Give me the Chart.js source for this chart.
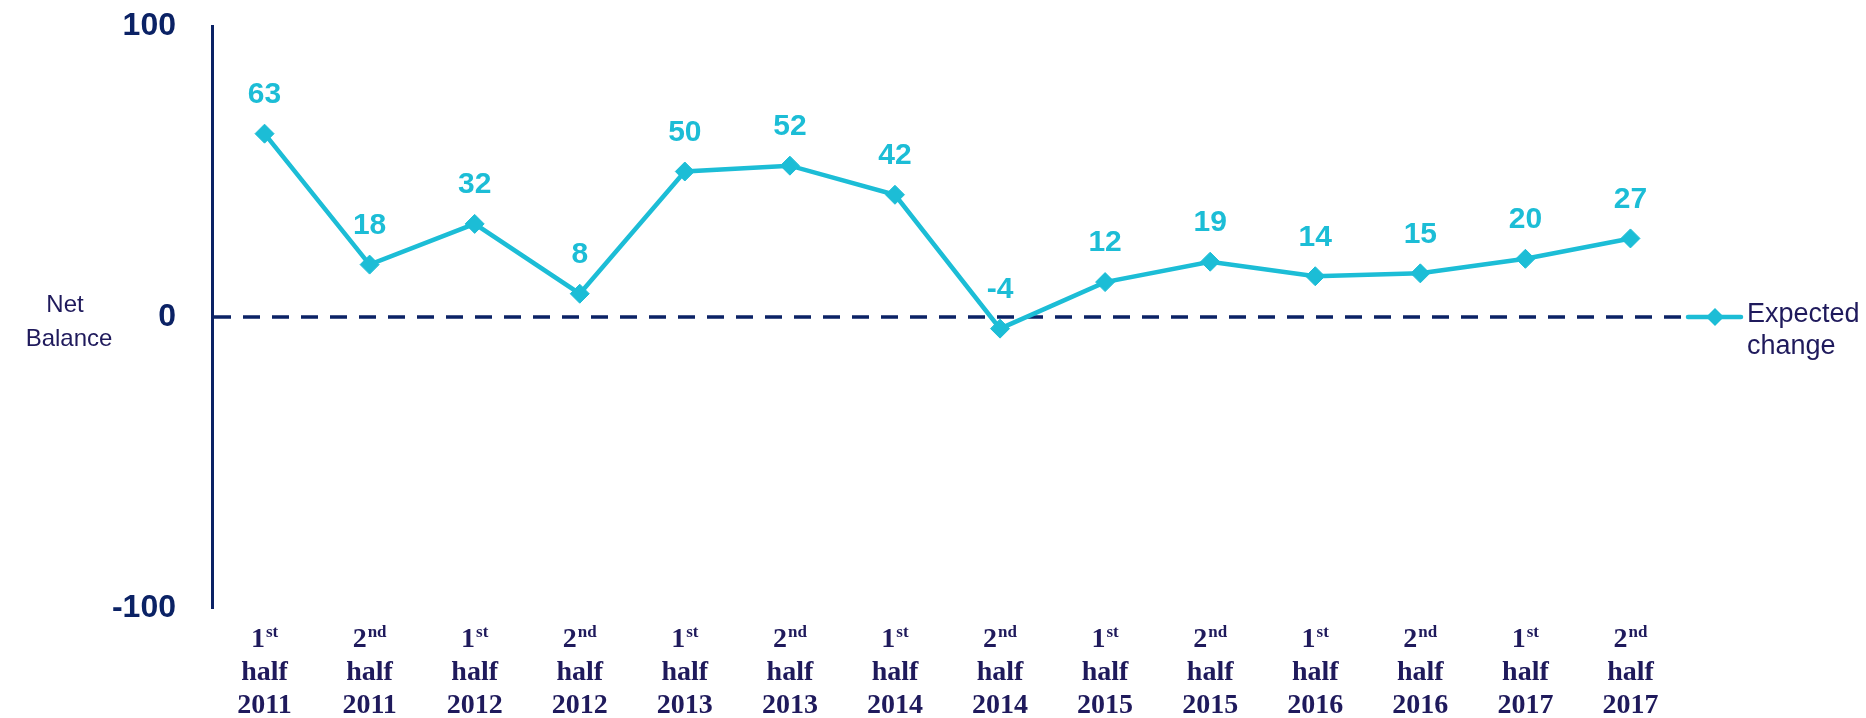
<!DOCTYPE html>
<html>
<head>
<meta charset="utf-8">
<script src="https://cdn.jsdelivr.net/npm/chart.js@4"></script>
<style>
  body { margin: 0; background: #fff; }
  canvas { display: block; }
</style>
</head>
<body>
<canvas id="balanceChart" width="1866" height="718"></canvas>
<script>
const halves = ['1', '2', '1', '2', '1', '2', '1', '2', '1', '2', '1', '2', '1', '2']
const suffixes = ['st', 'nd', 'st', 'nd', 'st', 'nd', 'st', 'nd', 'st', 'nd', 'st', 'nd', 'st', 'nd']
const years = ['2011', '2011', '2012', '2012', '2013', '2013', '2014', '2014', '2015', '2015', '2016', '2016', '2017', '2017']
const expectedChange = [63, 18, 32, 8, 50, 52, 42, -4, 12, 19, 14, 15, 20, 27]
const yTicks = [-100, 0, 100]

const cyan = '#1cbdd6'
const navy = '#0b2265'
const ink = '#1f1a5c'
const sans = '"Liberation Sans", Arial, sans-serif'
const serif = '"Liberation Serif", "Times New Roman", serif'

const labels = years.map((y, i) => halves[i] + suffixes[i] + ' half ' + y)

// dashed line at zero
const zeroLine = {
    id: 'zeroLine',
    beforeDatasetsDraw(chart) {
        const { ctx, chartArea, scales } = chart
        const y = scales.y.getPixelForValue(0)
        ctx.save()
        ctx.strokeStyle = navy
        ctx.lineWidth = 3.5
        ctx.setLineDash([17, 12])
        ctx.beginPath()
        ctx.moveTo(chartArea.left + 2, y)
        ctx.lineTo(chartArea.right, y)
        ctx.stroke()
        ctx.restore()
    }
}

// value labels, category labels with superscripts, axis title and legend
const extras = {
    id: 'extras',
    afterDraw(chart) {
        const { ctx, chartArea, scales } = chart
        const meta = chart.getDatasetMeta(0)
        ctx.save()

        ctx.fillStyle = cyan
        ctx.font = 'bold 30px ' + sans
        ctx.textAlign = 'center'
        ctx.textBaseline = 'middle'
        meta.data.forEach((pt, i) => {
            ctx.fillText(String(expectedChange[i]), pt.x, pt.y - 39)
        })

        ctx.fillStyle = ink
        years.forEach((year, i) => {
            const x = scales.x.getPixelForValue(i)
            const base = chartArea.bottom
            ctx.textBaseline = 'alphabetic'
            ctx.font = 'bold 28px ' + serif
            const w1 = ctx.measureText(halves[i]).width
            ctx.font = 'bold 17px ' + serif
            const w2 = ctx.measureText(suffixes[i]).width
            const left = x - (w1 + w2 + 1) / 2
            ctx.textAlign = 'left'
            ctx.font = 'bold 28px ' + serif
            ctx.fillText(halves[i], left, base + 39)
            ctx.font = 'bold 17px ' + serif
            ctx.fillText(suffixes[i], left + w1 + 1, base + 29)
            ctx.textAlign = 'center'
            ctx.font = 'bold 28px ' + serif
            ctx.fillText('half', x, base + 72)
            ctx.fillText(year, x, base + 105)
        })

        const zeroY = scales.y.getPixelForValue(0)
        ctx.font = '24px ' + sans
        ctx.textAlign = 'center'
        ctx.textBaseline = 'middle'
        ctx.fillText('Net', 65, zeroY - 12)
        ctx.fillText('Balance', 69, zeroY + 22)

        // legend
        const lx = chartArea.right + 5
        ctx.strokeStyle = cyan
        ctx.lineWidth = 4.5
        ctx.lineCap = 'round'
        ctx.beginPath()
        ctx.moveTo(lx, zeroY)
        ctx.lineTo(lx + 53, zeroY)
        ctx.stroke()
        const cx = lx + 27
        ctx.fillStyle = cyan
        ctx.beginPath()
        ctx.moveTo(cx - 9, zeroY)
        ctx.lineTo(cx, zeroY - 9)
        ctx.lineTo(cx + 9, zeroY)
        ctx.lineTo(cx, zeroY + 9)
        ctx.closePath()
        ctx.fill()
        ctx.fillStyle = ink
        ctx.font = '27px ' + sans
        ctx.textAlign = 'left'
        ctx.fillText('Expected', lx + 59, zeroY - 2)
        ctx.fillText('change', lx + 59, zeroY + 30)

        ctx.restore()
    }
}

new Chart(document.getElementById('balanceChart'), {
    type: 'line',
    data: {
        labels: labels,
        datasets: [{
            label: 'Expected change',
            data: expectedChange,
            borderColor: cyan,
            backgroundColor: cyan,
            borderWidth: 4.5,
            pointStyle: 'rectRot',
            pointRadius: 9.5,
            pointBorderWidth: 1,
            pointBackgroundColor: cyan,
            pointBorderColor: cyan,
            tension: 0
        }]
    },
    options: {
        responsive: false,
        animation: false,
        layout: {
            padding: { top: 26, right: 183, bottom: 110, left: 0 }
        },
        scales: {
            x: {
                display: false,
                offset: true
            },
            y: {
                min: -100,
                max: 100,
                afterBuildTicks: scale => {
                    scale.ticks = yTicks.map(v => ({ value: v }))
                },
                afterFit: scale => {
                    scale.width = 212
                    scale.paddingTop = 0
                    scale.paddingBottom = 0
                },
                ticks: {
                    color: navy,
                    padding: 36,
                    font: { family: sans, size: 32, weight: 'bold' }
                },
                grid: { display: false, drawTicks: false },
                border: { display: true, color: navy, width: 3 }
            }
        },
        plugins: {
            legend: { display: false },
            tooltip: { enabled: false }
        }
    },
    plugins: [zeroLine, extras]
})
</script>
</body>
</html>
